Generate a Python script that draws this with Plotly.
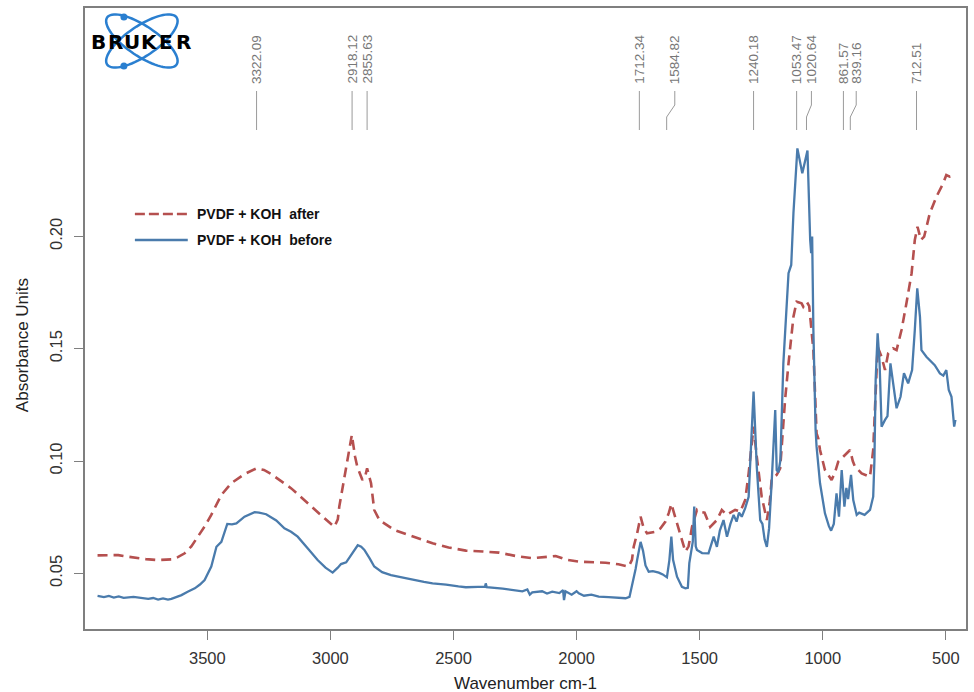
import math
import plotly.graph_objects as go

# ---------------- data ----------------
before_wn = [3946, 3920, 3900, 3880, 3860, 3840, 3800, 3770, 3740, 3720, 3700, 3680, 3660, 3646,
             3620, 3605, 3580, 3551, 3530, 3511, 3484, 3463, 3443, 3430, 3419, 3400, 3382, 3349,
             3308, 3290, 3261, 3220, 3187, 3160, 3133, 3090, 3052, 3020, 2991, 2970, 2957, 2936,
             2910, 2889, 2875, 2862, 2840, 2822, 2790, 2754, 2700, 2660, 2620, 2585, 2530, 2480,
             2450, 2400, 2372, 2369, 2365, 2300, 2247, 2220, 2200, 2190, 2180, 2140, 2120, 2099,
             2070, 2055, 2051, 2045, 2020, 2000, 1991, 1970, 1940, 1910, 1870, 1830, 1801, 1785,
             1775, 1760, 1754, 1740, 1730, 1720, 1707, 1690, 1666, 1650, 1633, 1623, 1615, 1608,
             1592, 1572, 1558, 1548, 1542, 1535, 1528, 1522, 1516, 1511, 1490, 1464, 1443, 1430,
             1418, 1403, 1389, 1375, 1362, 1350, 1340, 1329, 1315, 1301, 1291, 1281, 1268, 1254,
             1245, 1236, 1227, 1218, 1207, 1193, 1187, 1180, 1172, 1160, 1139, 1128, 1119, 1103,
             1083, 1062, 1051, 1047, 1043, 1038, 1029, 1025, 1011, 991, 975, 966, 955, 944, 934,
             923, 912, 904, 897, 885, 876, 862, 852, 842, 830, 820, 808, 795, 790, 785, 777, 769,
             761, 747, 737, 725, 711, 700, 684, 670, 653, 637, 626, 616, 605, 599, 579, 565, 545,
             524, 510, 498, 488, 477, 466, 461]
before_abs = [0.0399, 0.0394, 0.0399, 0.0392, 0.0397, 0.0391, 0.0395, 0.0389, 0.0386, 0.0390,
              0.0383, 0.0388, 0.0383, 0.0386, 0.0395, 0.0403, 0.0418, 0.0433, 0.0450, 0.0470,
              0.0530, 0.0618, 0.0640, 0.0680, 0.0720, 0.0718, 0.0722, 0.0752, 0.0772, 0.0770,
              0.0763, 0.0735, 0.0700, 0.0685, 0.0663, 0.0608, 0.0559, 0.0525, 0.0503, 0.0525,
              0.0541, 0.0549, 0.0590, 0.0625, 0.0618, 0.0604, 0.0565, 0.0530, 0.0505, 0.0492,
              0.0480, 0.0470, 0.0462, 0.0455, 0.0450, 0.0442, 0.0438, 0.0440, 0.0440, 0.0455,
              0.0438, 0.0432, 0.0426, 0.0420, 0.0428, 0.0405, 0.0415, 0.0420, 0.0410, 0.0418,
              0.0412, 0.0425, 0.0381, 0.0420, 0.0405, 0.0420, 0.0411, 0.0400, 0.0405, 0.0396,
              0.0394, 0.0392, 0.0389, 0.0395, 0.0440, 0.0520, 0.0559, 0.0640, 0.0600, 0.0535,
              0.0507, 0.0510, 0.0503, 0.0495, 0.0482, 0.0559, 0.0663, 0.0560, 0.0485, 0.0440,
              0.0433, 0.0435, 0.0545, 0.0600, 0.0640, 0.0797, 0.0620, 0.0604, 0.0590, 0.0589,
              0.0663, 0.0618, 0.0690, 0.0737, 0.0663, 0.0720, 0.0760, 0.0730, 0.0770, 0.0752,
              0.0790, 0.0841, 0.1093, 0.1309, 0.0975, 0.0737, 0.0720, 0.0650, 0.0618, 0.0700,
              0.0915, 0.1227, 0.0960, 0.0950, 0.1004, 0.1435, 0.1836, 0.1873, 0.2103, 0.2392,
              0.2281, 0.2382, 0.1984, 0.1925, 0.2000, 0.1583, 0.1138, 0.1064, 0.0901, 0.0767,
              0.0710, 0.0690, 0.0720, 0.0856, 0.0752, 0.0960, 0.0797, 0.0880, 0.0830, 0.0938,
              0.0826, 0.0760, 0.0770, 0.0767, 0.0760, 0.0770, 0.0782, 0.0841, 0.1004, 0.1360,
              0.1569, 0.1435, 0.1153, 0.1183, 0.1200, 0.1435, 0.1316, 0.1235, 0.1286, 0.1391,
              0.1346, 0.1405, 0.1583, 0.1769, 0.1642, 0.1494, 0.1464, 0.1450, 0.1427, 0.1390,
              0.1380, 0.1405, 0.1316, 0.1286, 0.1153, 0.1183]

after_wn = [3946, 3900, 3862, 3830, 3795, 3750, 3700, 3646, 3620, 3592, 3565, 3538, 3510, 3484,
            3460, 3443, 3403, 3349, 3301, 3270, 3241, 3200, 3159, 3120, 3078, 3050, 3024, 2984,
            2970, 2964, 2950, 2936, 2913, 2900, 2891, 2870, 2858, 2851, 2835, 2822, 2801, 2741,
            2720, 2660, 2585, 2520, 2450, 2380, 2315, 2247, 2180, 2085, 2040, 1991, 1940, 1882,
            1830, 1788, 1775, 1768, 1754, 1740, 1727, 1714, 1680, 1659, 1639, 1625, 1615, 1605,
            1592, 1575, 1558, 1545, 1531, 1511, 1504, 1480, 1457, 1430, 1410, 1390, 1370, 1356,
            1335, 1315, 1301, 1281, 1268, 1248, 1227, 1215, 1207, 1187, 1173, 1153, 1139, 1119,
            1106, 1086, 1079, 1065, 1055, 1038, 1025, 1018, 1011, 991, 964, 950, 937, 909, 889,
            878, 869, 842, 808, 795, 788, 777, 761, 747, 734, 714, 700, 680, 660, 639, 626, 615,
            601, 588, 565, 538, 511, 498, 484, 470, 461]
after_abs = [0.0580, 0.0582, 0.0581, 0.0575, 0.0569, 0.0563, 0.0559, 0.0562, 0.0572, 0.0589,
             0.0620, 0.0663, 0.0710, 0.0760, 0.0810, 0.0849, 0.0901, 0.0942, 0.0967, 0.0960,
             0.0942, 0.0910, 0.0878, 0.0840, 0.0797, 0.0770, 0.0745, 0.0707, 0.0740, 0.0797,
             0.0880, 0.0975, 0.1116, 0.1020, 0.0975, 0.0915, 0.0935, 0.0967, 0.0901, 0.0782,
             0.0737, 0.0693, 0.0685, 0.0663, 0.0634, 0.0615, 0.0601, 0.0597, 0.0592, 0.0577,
             0.0567, 0.0577, 0.0560, 0.0552, 0.0550, 0.0547, 0.0540, 0.0530, 0.0560, 0.0618,
             0.0678, 0.0752, 0.0700, 0.0678, 0.0685, 0.0700, 0.0730, 0.0770, 0.0809, 0.0770,
             0.0723, 0.0650, 0.0596, 0.0620, 0.0707, 0.0782, 0.0774, 0.0770, 0.0707, 0.0737,
             0.0782, 0.0760, 0.0775, 0.0782, 0.0775, 0.0826, 0.0945, 0.1153, 0.1019, 0.0841,
             0.0737, 0.0820, 0.0923, 0.0938, 0.0967, 0.1272, 0.1435, 0.1642, 0.1709, 0.1702,
             0.1687, 0.1709, 0.1690, 0.1494, 0.1123, 0.1100, 0.1049, 0.0960, 0.0915, 0.0950,
             0.0997, 0.1027, 0.1049, 0.1000, 0.0975, 0.0945, 0.0930, 0.1049, 0.1227, 0.1509,
             0.1464, 0.1405, 0.1480, 0.1502, 0.1494, 0.1583, 0.1702, 0.1836, 0.1984, 0.2043,
             0.1984, 0.1999, 0.2103, 0.2177, 0.2236, 0.2273, 0.2266, 0.2270, 0.2263]

series_names = ["PVDF\u00a0+\u00a0KOH\u00a0\u00a0after", "PVDF\u00a0+\u00a0KOH\u00a0\u00a0before"]

x_ticks = [3500, 3000, 2500, 2000, 1500, 1000, 500]
y_ticks = [0.05, 0.10, 0.15, 0.20]
y_tick_text = ["0.05", "0.10", "0.15", "0.20"]

peak_labels = ["3322.09", "2918.12", "2855.63", "1712.34", "1584.82", "1240.18",
               "1053.47", "1020.64", "861.57", "839.16", "712.51"]
# where each label sits along the plotted axis (text position, foot of the leader line)
peak_text_at = [3300, 2912, 2851, 1745, 1601, 1281, 1106, 1046, 916, 864, 619]
peak_foot_at = [3300, 2912, 2851, 1745, 1634, 1281, 1106, 1066, 916, 888, 619]

# ---------------- layout geometry ----------------
W, H = 974, 692
ML, MR, MT, MB = 85, 6, 8, 63
PW, PH = W - ML - MR, H - MT - MB
X_RANGE = [3997, 418]
Y_RANGE = [0.0252, 0.3017]

RED = "#b5504f"
BLUE = "#4a7bac"
AXIS = "#7f7f7f"
FONT = "Arial, Liberation Sans, sans-serif"


def px_x(px):
    return (px - ML) / PW


def px_y(py):
    return (H - MB - py) / PH


fig = go.Figure()
fig.add_trace(go.Scatter(x=after_wn, y=after_abs, mode="lines", name=series_names[0],
                         line=dict(color=RED, width=2.6, dash="10px,6px"), showlegend=False))
fig.add_trace(go.Scatter(x=before_wn, y=before_abs, mode="lines", name=series_names[1],
                         line=dict(color=BLUE, width=2.3), showlegend=False))

shapes = []
annotations = []

# peak labels
for lab, xt, xf in zip(peak_labels, peak_text_at, peak_foot_at):
    annotations.append(dict(x=xt, xref="x", y=px_y(86), yref="paper", text=lab,
                            textangle=-90, showarrow=False, xanchor="center", yanchor="bottom",
                            font=dict(family=FONT, size=13.5, color="#777")))
    if xt == xf:
        path = f"M {xt},{px_y(91)} L {xt},{px_y(130)}"
    else:
        path = (f"M {xt},{px_y(91)} L {xt},{px_y(105)} L {xf},{px_y(117)} "
                f"L {xf},{px_y(130)}")
    shapes.append(dict(type="path", xref="x", yref="paper", path=path,
                       line=dict(color="#9a9a9a", width=1)))

# legend (drawn manually)
leg_rows = [(214, RED, "10px,4px", 2.6), (240, BLUE, "solid", 2.3)]
for (ly, col, dash, wdt), name in zip(leg_rows, series_names):
    shapes.append(dict(type="line", xref="paper", yref="paper", x0=px_x(135), x1=px_x(188),
                       y0=px_y(ly), y1=px_y(ly), line=dict(color=col, width=wdt, dash=dash)))
    annotations.append(dict(x=px_x(195), y=px_y(ly), xref="paper", yref="paper",
                            text=f"<b>{name}</b>", showarrow=False, xanchor="left",
                            yanchor="middle", font=dict(family=FONT, size=14, color="#111")))

# Bruker logo
LOGO_BLUE = "#2a7fd0"
cx, cy, a, b = 142, 41, 42, 15
for ang in (34, -34):
    th = math.radians(ang)
    pts = []
    for k in range(73):
        t = 2 * math.pi * k / 72
        ex = cx + a * math.cos(t) * math.cos(th) - b * math.sin(t) * math.sin(th)
        ey = cy + a * math.cos(t) * math.sin(th) + b * math.sin(t) * math.cos(th)
        pts.append(f"{px_x(ex):.5f},{px_y(ey):.5f}")
    shapes.append(dict(type="path", xref="paper", yref="paper",
                       path="M " + " L ".join(pts) + " Z",
                       line=dict(color=LOGO_BLUE, width=2.5)))
for (dx, dy) in [(124, 17), (124, 66)]:
    shapes.append(dict(type="circle", xref="paper", yref="paper",
                       x0=px_x(dx - 3.5), x1=px_x(dx + 3.5), y0=px_y(dy + 3.5), y1=px_y(dy - 3.5),
                       fillcolor=LOGO_BLUE, line=dict(width=0)))
for i, ch in enumerate("BRUKER"):
    annotations.append(dict(x=px_x(98.5 + 17 * i), y=px_y(41.5), xref="paper", yref="paper",
                            text=f"<b>{ch}</b>", showarrow=False, xanchor="center",
                            yanchor="middle",
                            font=dict(family="DejaVu Sans, sans-serif", size=20, color="#000")))

# axis titles
annotations.append(dict(x=0.5, y=px_y(683), xref="paper", yref="paper", text="Wavenumber cm-1",
                        showarrow=False, xanchor="center", yanchor="middle",
                        font=dict(family=FONT, size=17, color="#222")))
annotations.append(dict(x=px_x(22), y=px_y(345), xref="paper", yref="paper",
                        text="Absorbance Units", textangle=-90, showarrow=False,
                        xanchor="center", yanchor="middle",
                        font=dict(family=FONT, size=17, color="#222")))

axis_common = dict(showline=True, mirror=True, linecolor=AXIS, linewidth=1.5, showgrid=False,
                   zeroline=False, ticks="outside", ticklen=9, tickcolor=AXIS, tickwidth=1,
                   tickfont=dict(family=FONT, size=16.5, color="#333"))

fig.update_layout(
    width=W, height=H,
    margin=dict(l=ML, r=MR, t=MT, b=MB),
    paper_bgcolor="white", plot_bgcolor="white",
    xaxis=dict(range=X_RANGE, tickvals=x_ticks, ticktext=[str(v) for v in x_ticks],
               ticklabelstandoff=4, **axis_common),
    yaxis=dict(range=Y_RANGE, tickvals=y_ticks, ticktext=y_tick_text, tickangle=-90,
               ticklabelstandoff=6, **axis_common),
    shapes=shapes,
    annotations=annotations,
    showlegend=False,
)

fig.write_html("out.html")
